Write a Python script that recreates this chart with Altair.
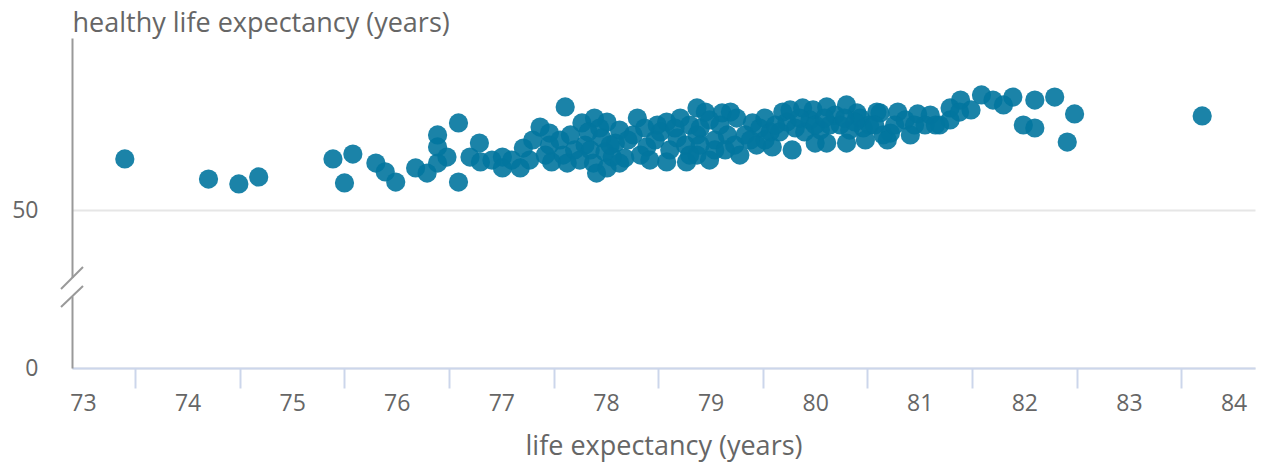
import altair as alt
import pandas as pd

# ---- data ----
life_expectancy = [
    73.40, 74.20, 74.49, 74.68, 75.39, 75.58, 75.50, 75.80, 75.89, 75.99,
    76.18, 76.29, 76.39, 76.39, 76.39, 76.48, 76.59, 76.59, 76.70, 76.79,
    76.80, 76.91, 77.01, 77.01, 77.18, 77.21, 77.30, 77.37, 77.46, 77.46,
    77.48, 77.61, 77.59, 77.63, 77.77, 77.80, 77.89, 77.88, 77.91, 78.01,
    77.96, 78.01, 78.09, 78.18, 78.30, 78.26, 78.39, 78.49, 78.58, 78.58,
    78.71, 78.68, 78.77, 78.87, 78.87, 78.87,
    77.70, 77.85, 77.99, 78.06, 77.75, 77.56, 78.13, 78.33, 78.47, 78.61,
    78.76, 78.80, 78.52,
    78.90, 78.99, 79.11, 79.19, 79.25, 79.16, 79.28, 79.40, 79.44, 79.57,
    79.59, 79.69, 79.73, 79.78, 79.88, 79.90, 79.98, 80.00, 80.11, 80.11,
    80.14, 80.30, 80.30, 80.40, 80.59, 80.65, 80.46, 80.43,
    79.04, 79.33, 79.47, 79.81, 79.95, 80.05, 80.24, 80.33, 80.52, 79.09,
    79.23, 79.52, 79.66, 79.85, 80.19, 80.38, 78.90, 78.99,
    80.62, 80.79, 80.72, 80.91, 80.98, 81.10, 81.19, 81.29, 81.29, 81.39,
    81.49, 81.59, 81.70, 81.80, 81.89, 81.99, 82.10, 82.10, 82.29, 82.41,
    82.48, 80.69, 80.86, 81.05, 83.70,
    77.66, 77.83, 78.04, 78.21, 78.37, 78.42, 78.66, 78.80, 77.27, 77.42,
    77.10, 78.13, 77.94, 78.95, 79.04, 79.14, 79.38, 79.52, 79.62, 79.76,
    80.00, 80.09, 80.28, 80.48, 80.57, 80.76, 80.95, 81.15, 81.38,
]
healthy_life_expectancy = [
    53.23, 51.96, 51.65, 52.09, 53.23, 53.54, 51.71, 52.97, 52.41, 51.77,
    52.66, 52.34, 52.97, 53.99, 54.75, 53.35, 55.51, 51.77, 53.35, 54.24,
    53.04, 53.16, 53.35, 52.66, 52.66, 53.92, 54.43, 55.25, 54.87, 54.11,
    53.04, 56.52, 53.48, 52.97, 55.51, 54.11, 55.82, 52.97, 52.34, 55.57,
    54.56, 52.66, 54.24, 53.29, 55.82, 54.75, 53.99, 55.38, 55.57, 53.04,
    55.82, 54.56, 53.04, 56.46, 54.75, 53.48,
    53.80, 53.80, 53.67, 53.35, 53.16, 54.43, 55.06, 53.48, 54.43, 53.80,
    54.11, 55.38, 54.94,
    55.19, 53.16, 56.14, 56.20, 55.82, 54.75, 53.48, 55.51, 54.11, 54.94,
    53.99, 56.20, 55.57, 53.80, 56.46, 54.94, 56.33, 54.24, 56.52, 54.24,
    55.38, 56.65, 54.24, 56.14, 56.20, 54.75, 55.19, 55.82,
    54.43, 54.75, 55.19, 55.19, 55.70, 55.06, 55.38, 55.06, 55.38, 55.38,
    54.11, 54.43, 54.94, 55.82, 56.01, 55.57, 54.11, 55.70,
    56.14, 56.20, 54.87, 54.75, 56.08, 56.01, 55.38, 55.70, 56.46, 56.96,
    56.33, 57.28, 56.96, 56.65, 57.15, 55.38, 56.96, 55.19, 57.15, 54.30,
    56.08, 54.43, 55.70, 55.38, 55.95,
    54.75, 54.94, 54.11, 54.43, 55.19, 53.16, 55.19, 53.48, 53.16, 53.48,
    53.16, 52.97, 55.19, 56.20, 53.80, 53.80, 54.43, 55.82, 55.38, 56.33,
    55.38, 55.82, 55.82, 54.43, 55.38, 55.38, 55.38, 55.38, 56.20,
]
x_tick_values = list(range(73, 85))
y_tick_values = [0, 50]
x_title = "life expectancy (years)"
y_title = "healthy life expectancy (years)"

df = pd.DataFrame({"life": life_expectancy, "healthy": healthy_life_expectancy})

W, H = 1183, 330
FONT = "Open Sans"
TEXT = "#666666"
STEP = W / (84.205 - 72.895)

points = alt.Chart(df).mark_circle(size=370, color="#02769f", opacity=0.9).encode(
    x=alt.X(
        "life:Q",
        scale=alt.Scale(domain=[72.895, 84.205], nice=False, zero=False),
        axis=alt.Axis(
            values=x_tick_values, format="d", title=x_title, grid=False,
            domainColor="#ccd6eb", domainWidth=2,
            tickColor="#ccd6eb", tickWidth=2, tickSize=20,
            tickOffset=STEP / 2, labelOffset=-STEP / 2,
            labelPadding=4, labelFont=FONT, labelFontSize=23, labelColor=TEXT,
            titleFont=FONT, titleFontSize=27, titleFontWeight="normal", titleColor=TEXT,
            titleX=W / 2, titleY=86, titleAlign="center", titleBaseline="alphabetic",
        ),
    ),
    y=alt.Y(
        "healthy:Q",
        scale=alt.Scale(domain=[0, 50, 60.886], range=[H, 172, 0], nice=False, zero=False),
        axis=alt.Axis(
            values=y_tick_values, format="d", title=y_title,
            grid=True, gridColor="#e6e6e6", gridWidth=2,
            domainColor="#999999", domainWidth=2,
            ticks=False, tickSize=0, labelPadding=34,
            labelFont=FONT, labelFontSize=23, labelColor=TEXT,
            titleFont=FONT, titleFontSize=27, titleFontWeight="normal", titleColor=TEXT,
            titleAngle=0, titleX=0, titleY=-7, titleAlign="left", titleBaseline="alphabetic",
        ),
    ),
)

one = pd.DataFrame({"k": [0]})
gap = alt.Chart(one).mark_rule(color="white", strokeWidth=5).encode(
    x=alt.value(0), y=alt.value(240), y2=alt.value(258.5)
)
slash1 = alt.Chart(one).mark_rule(color="#999999", strokeWidth=2).encode(
    x=alt.value(-11), y=alt.value(251), x2=alt.value(11), y2=alt.value(229)
)
slash2 = alt.Chart(one).mark_rule(color="#999999", strokeWidth=2).encode(
    x=alt.value(-11), y=alt.value(269), x2=alt.value(11), y2=alt.value(248)
)

chart = (
    alt.layer(points, gap, slash1, slash2)
    .properties(
        width=W, height=H,
        autosize=alt.AutoSizeParams(type="none"),
        padding={"left": 64, "top": 30, "right": 24, "bottom": 96},
        background="white",
    )
    .configure_view(stroke=None)
)

chart.save("out.html", embed_options={"renderer": "svg", "actions": False})
